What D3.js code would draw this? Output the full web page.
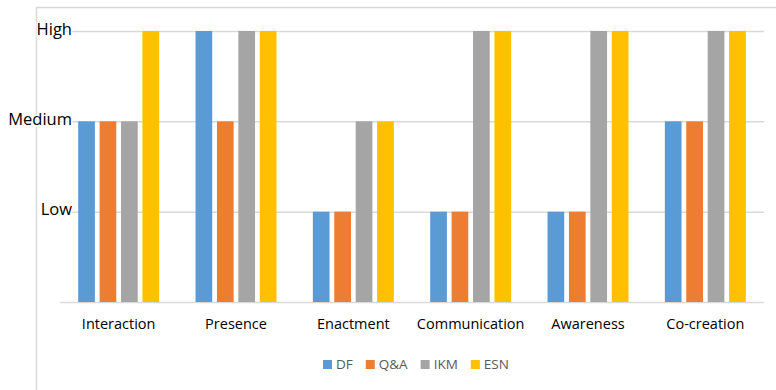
<!DOCTYPE html>
<html>
<head>
<meta charset="utf-8">
<script src="https://cdn.jsdelivr.net/npm/d3@7"></script>
<style>
  body { margin: 0; background: #fff; }
  svg { display: block; font-family: "Open Sans", "Liberation Sans", sans-serif; }
</style>
</head>
<body>
<svg width="776" height="390"></svg>
<script>
  // DATA
  var categories = ["Interaction", "Presence", "Enactment", "Communication", "Awareness", "Co-creation"];
  var seriesNames = ["DF", "Q&A", "IKM", "ESN"];
  var colors = ["#5b9bd5", "#ed7d31", "#a5a5a5", "#ffc000"];
  // 1 = Low, 2 = Medium, 3 = High
  var dfValues  = [2, 3, 1, 1, 1, 2];
  var qaValues  = [2, 2, 1, 1, 1, 2];
  var ikmValues = [2, 3, 2, 3, 3, 3];
  var esnValues = [3, 3, 2, 3, 3, 3];
  var levelLabels = ["", "Low", "Medium", "High"];

  var series = [dfValues, qaValues, ikmValues, esnValues];

  // SETUP
  var svg = d3.select("svg"),
    margin = { top: 31, right: 12, bottom: 88, left: 60 },
    width = 776 - margin.left - margin.right,
    height = 390 - margin.top - margin.bottom;

  // outer chart border (only top and left are visible)
  svg.append("path")
    .attr("d", "M36.5,390 V7.5 H776")
    .attr("fill", "none")
    .attr("stroke", "#d9d9d9")
    .attr("stroke-width", 1.5);

  var x = d3.scaleBand().domain(categories).range([0, width]).paddingInner(0.31).paddingOuter(0.155);
  var x1 = d3.scaleBand().domain(seriesNames).range([0, x.bandwidth()]).paddingInner(0.22);
  var y = d3.scaleLinear().domain([0, 3]).range([height, 0]);

  var g = svg.append("g")
    .attr("transform", "translate(" + margin.left + "," + margin.top + ")");

  // gridlines
  g.append("g")
    .attr("class", "grid")
    .call(d3.axisLeft(y).tickValues([0, 1, 2, 3]).tickSize(-width).tickFormat(""))
    .call(function (s) {
      s.select(".domain").remove();
      s.selectAll("line").attr("stroke", "#d9d9d9").attr("stroke-width", 1.5);
    });

  // bars
  var groups = g.selectAll(".cat")
    .data(categories)
    .enter().append("g")
    .attr("class", "cat")
    .attr("transform", function (d) { return "translate(" + x(d) + ",0)"; });

  groups.selectAll("rect")
    .data(function (d, i) {
      return seriesNames.map(function (s, j) { return { key: s, value: series[j][i], color: colors[j] }; });
    })
    .enter().append("rect")
    .attr("x", function (d) { return x1(d.key); })
    .attr("y", function (d) { return y(d.value); })
    .attr("width", x1.bandwidth())
    .attr("height", function (d) { return height - y(d.value); })
    .attr("fill", function (d) { return d.color; });

  // y labels
  g.append("g")
    .call(d3.axisLeft(y).tickValues([1, 2, 3]).tickSize(0).tickPadding(0)
      .tickFormat(function (d) { return levelLabels[d]; }))
    .call(function (s) {
      s.select(".domain").remove();
      s.selectAll("text")
        .attr("x", 12)
        .attr("dy", "0.2em")
        .attr("font-size", 16.5)
        .attr("fill", "#000")
        .attr("stroke", "#fff")
        .attr("stroke-width", 3)
        .attr("paint-order", "stroke")
        .style("font-family", "'Open Sans', sans-serif");
    });

  // x labels
  g.append("g")
    .attr("transform", "translate(0," + height + ")")
    .call(d3.axisBottom(x).tickSize(0).tickPadding(17))
    .call(function (s) {
      s.select(".domain").remove();
      s.selectAll("text")
        .attr("font-size", 14.5)
        .attr("fill", "#000")
        .style("font-family", "'Open Sans', sans-serif");
    });

  // legend, laid out left to right from measured text widths
  var legend = svg.append("g").attr("class", "legend").attr("transform", "translate(323,360)");
  var cursor = 0;
  seriesNames.forEach(function (name, i) {
    var item = legend.append("g").attr("transform", "translate(" + cursor + ",0)");
    item.append("rect")
      .attr("width", 9).attr("height", 9)
      .attr("fill", colors[i]);
    var t = item.append("text")
      .attr("x", 13).attr("y", 4.5).attr("dy", "0.35em")
      .attr("font-size", 13.5)
      .attr("fill", "#595959")
      .text(name);
    cursor += 13 + t.node().getComputedTextLength() + 13;
  });
</script>
</body>
</html>
